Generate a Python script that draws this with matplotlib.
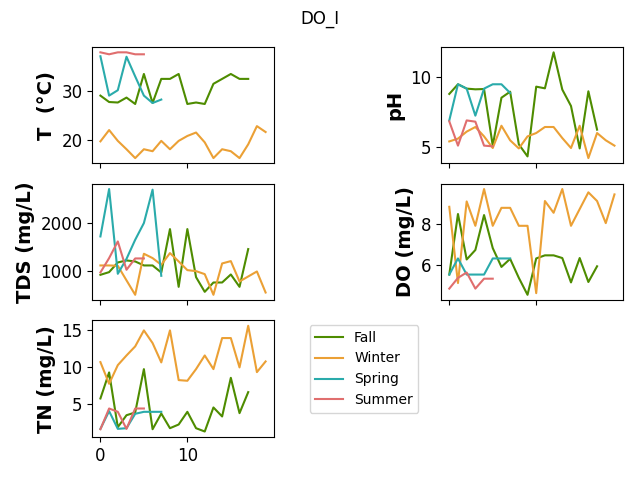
import matplotlib
matplotlib.use("Agg")
import matplotlib.pyplot as plt

seasons = ["Fall", "Winter", "Spring", "Summer"]
colors = ["#4e8c00", "#eba035", "#2aabab", "#e06e6e"]

T_fall = [29.0, 27.7, 27.6, 28.6, 27.3, 33.4, 27.5, 32.4, 32.4, 33.4, 27.3, 27.6, 27.3, 31.4, 32.4, 33.4, 32.4, 32.4]
T_winter = [19.7, 22.0, 19.8, 18.1, 16.3, 18.1, 17.7, 19.8, 18.1, 19.8, 20.8, 21.5, 19.5, 16.3, 18.1, 17.7, 16.3, 19.1, 22.8, 21.6]
T_spring = [37.0, 29.0, 30.1, 36.9, 32.9, 29.0, 27.5, 28.2]
T_summer = [37.8, 37.4, 37.8, 37.8, 37.4, 37.4]

pH_fall = [8.79, 9.48, 9.17, 9.12, 9.14, 5.1, 8.52, 8.95, 5.19, 4.33, 9.31, 9.19, 11.76, 9.1, 7.93, 4.9, 8.98, 6.24]
pH_winter = [5.4, 5.6, 6.1, 6.43, 5.76, 4.93, 6.52, 5.48, 4.9, 5.76, 6.0, 6.43, 6.43, 5.64, 4.93, 6.52, 4.21, 6.0, 5.48, 5.1]
pH_spring = [6.9, 9.48, 9.17, 7.24, 9.17, 9.48, 9.48, 8.86]
pH_summer = [6.83, 5.1, 6.9, 6.81, 5.1, 5.05]

TDS_fall = [916, 972, 1175, 1217, 1196, 1112, 1112, 965, 1874, 664, 1874, 867, 559, 755, 755, 923, 664, 1455]
TDS_winter = [1112, 1112, 1105, 800, 497, 1357, 1266, 1126, 1371, 1196, 1014, 993, 930, 497, 1154, 1203, 776, 881, 986, 545]
TDS_spring = [1720, 2713, 937, 1250, 1650, 2000, 2700, 895]
TDS_summer = [965, 1266, 1615, 1021, 1259, 1259]

DO_fall = [5.53, 8.46, 6.26, 6.72, 8.41, 6.81, 5.9, 6.29, 5.37, 4.55, 6.31, 6.46, 6.46, 6.33, 5.15, 6.33, 5.17, 5.93]
DO_winter = [8.81, 5.12, 9.07, 7.89, 9.67, 7.89, 8.76, 8.76, 7.89, 7.89, 4.63, 9.09, 8.52, 9.67, 7.89, 8.7, 9.51, 9.09, 8.02, 9.41]
DO_spring = [5.53, 6.31, 5.53, 5.53, 5.53, 6.31, 6.31, 6.31]
DO_summer = [4.85, 5.37, 5.63, 4.85, 5.33, 5.33]

TN_fall = [5.77, 9.3, 1.88, 3.5, 3.87, 9.75, 1.6, 3.73, 1.74, 2.24, 3.96, 1.74, 1.29, 4.55, 3.33, 8.57, 3.78, 6.63]
TN_winter = [10.7, 7.76, 10.29, 11.6, 12.83, 15.0, 13.28, 10.66, 15.0, 8.26, 8.17, 9.75, 11.6, 9.75, 13.96, 13.96, 9.98, 15.63, 9.34, 10.79]
TN_spring = [1.65, 4.05, 1.65, 1.74, 3.69, 3.96, 3.96, 3.96]
TN_summer = [1.6, 4.41, 3.96, 1.65, 4.41, 4.41]

panels = [
    ("T  (°C)", [T_fall, T_winter, T_spring, T_summer]),
    ("pH", [pH_fall, pH_winter, pH_spring, pH_summer]),
    ("TDS (mg/L)", [TDS_fall, TDS_winter, TDS_spring, TDS_summer]),
    ("DO (mg/L)", [DO_fall, DO_winter, DO_spring, DO_summer]),
    ("TN (mg/L)", [TN_fall, TN_winter, TN_spring, TN_summer]),
]

fig, axes = plt.subplots(3, 2, sharex=True, figsize=(6.4, 4.8), dpi=100)
flat = axes.flatten()
lines = []
for ax, (label, series) in zip(flat, panels):
    lines = []
    for s, c, name in zip(series, colors, seasons):
        ln, = ax.plot(range(len(s)), s, color=c, label=name)
        lines.append(ln)
    ax.set_ylabel(label, fontsize=14, fontweight="bold")
    ax.tick_params(labelsize=12)
axes[2, 1].axis("off")
fig.suptitle("DO_I")
fig.subplots_adjust(left=0.144, right=0.973, top=0.902, bottom=0.09,
                    wspace=0.92, hspace=0.175)
fig.legend(lines, seasons, loc="upper left", bbox_to_anchor=(0.473, 0.3375))
fig.savefig("out.png")
